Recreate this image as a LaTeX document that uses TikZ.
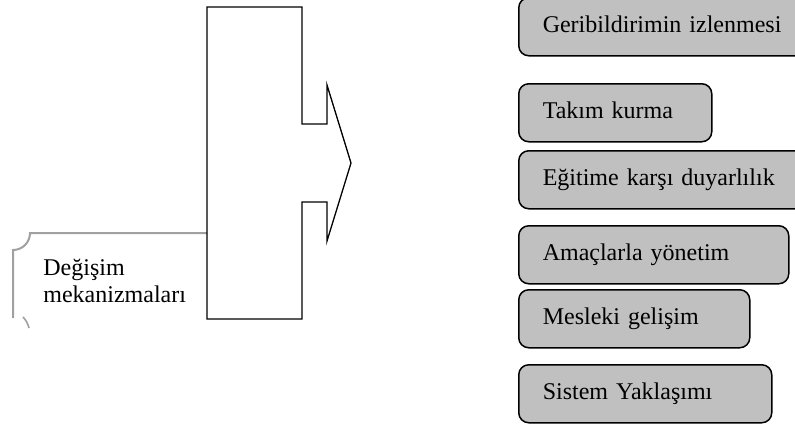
\documentclass[tikz,border=0pt]{standalone}
\usepackage{fontspec}
\setmainfont{Liberation Serif}
\definecolor{boxgray}{HTML}{C0C0C0}
\definecolor{calloutgray}{HTML}{A0A0A0}
\tikzset{
  txt/.style={font=\fontsize{12}{13.8}\selectfont, inner sep=0pt},
  itembox/.style={draw=black, line width=0.75pt, fill=boxgray, rounded corners=5pt,
    anchor=north west, inner xsep=12pt, inner ysep=0pt, align=left,
    text height=8.5pt, text depth=2.5pt, minimum height=29pt,
    font=\fontsize{12}{13.8}\selectfont},
  bigarrow/.style={draw=black, line width=0.65pt, line join=miter},
  callout/.style={draw=calloutgray, line width=1pt}
}
\begin{document}
\begin{tikzpicture}[x=0.5pt,y=-0.5pt]
\path[use as bounding box, clip] (0,0) rectangle (795,430);
% callout (gray)
\coordinate (cjoin) at (207,233);
\coordinate (ccorner) at (30,233);
\coordinate (cleft) at (13,250);
\coordinate (cend) at (13,318);
\draw[callout] (cjoin) -- (ccorner) .. controls (30,242.4) and (22.4,250) .. (cleft) -- (cend);
\coordinate (carcA) at (23,317);
\coordinate (carcB) at (29,328);
\draw[callout, line width=0.8pt] (carcA) .. controls (26,320) and (28,324) .. (carcB);
\node[txt, anchor=base west] (d1) at (43,275) {Değişim};
\node[txt, anchor=base west] (d2) at (43,302) {mekanizmaları};
% big arrow
\draw[bigarrow] (207,7) -- (302,7) -- (302,124) -- (327,124) -- (327,85) -- (351,163)
  -- (327,241) -- (327,202) -- (302,202) -- (302,319) -- (207,319) -- cycle;
% boxes
\node[itembox, text width=126pt] (b1) at (518,-3) {Geribildirimin izlenmesi};
\node[itembox, text width=72.5pt] (b2) at (518,83) {Takım kurma};
\node[itembox, text width=126pt] (b3) at (518,150) {Eğitime karşı duyarlılık};
\node[itembox, text width=111pt] (b4) at (518,225) {Amaçlarla yönetim};
\node[itembox, text width=91.5pt] (b5) at (518,289) {Mesleki gelişim};
\node[itembox, text width=102.5pt] (b6) at (518,364) {Sistem Yaklaşımı};
\end{tikzpicture}
\end{document}
